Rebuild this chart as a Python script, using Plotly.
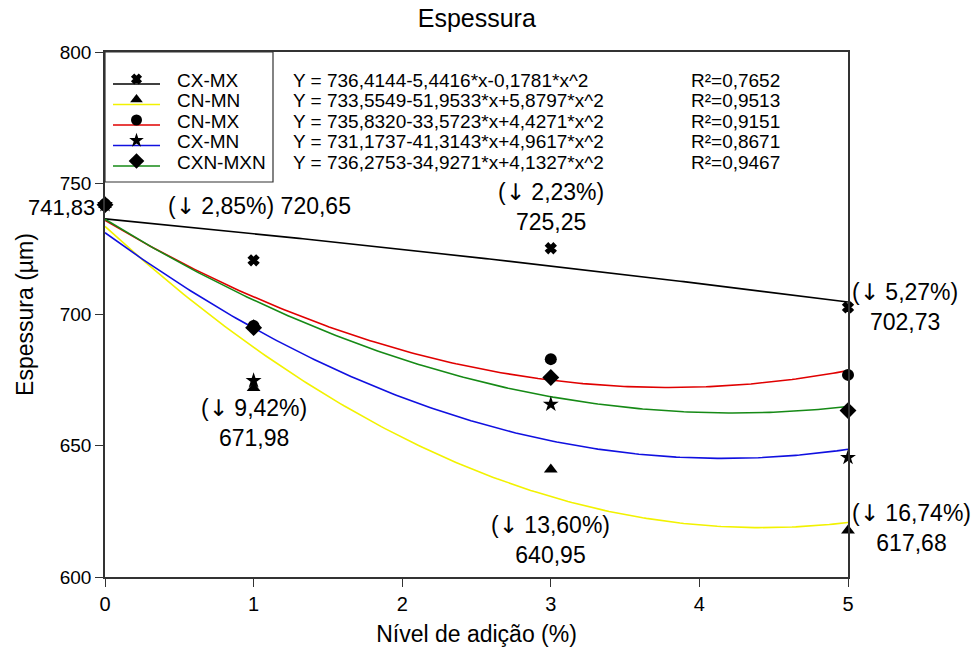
import numpy as np
import plotly.graph_objects as go

# ---- data ----
x_levels = [0, 1, 3, 5]
series_names = ["CX-MX", "CN-MN", "CN-MX", "CX-MN", "CXN-MXN"]
cx_mx = [741.83, 720.65, 725.25, 702.73]
cn_mn = [741.83, 671.98, 640.95, 617.68]
cn_mx = [741.83, 695.6, 683.0, 677.0]
cx_mn = [741.83, 674.8, 665.8, 645.5]
cxn_mxn = [741.83, 695.0, 676.0, 663.4]
# regression coefficients (a, b, c) for Y = a + b*x + c*x^2
coef_cx_mx = [736.4144, -5.4416, -0.1781]
coef_cn_mn = [733.5549, -51.9533, 5.8797]
coef_cn_mx = [735.8320, -33.5723, 4.4271]
coef_cx_mn = [731.1737, -41.3143, 4.9617]
coef_cxn_mxn = [736.2753, -34.9271, 4.1327]
equations = [
    "Y = 736,4144-5,4416*x-0,1781*x^2",
    "Y = 733,5549-51,9533*x+5,8797*x^2",
    "Y = 735,8320-33,5723*x+4,4271*x^2",
    "Y = 731,1737-41,3143*x+4,9617*x^2",
    "Y = 736,2753-34,9271*x+4,1327*x^2",
]
r2_labels = ["R²=0,7652", "R²=0,9513", "R²=0,9151", "R²=0,8671", "R²=0,9467"]

values = [cx_mx, cn_mn, cn_mx, cx_mn, cxn_mxn]
coefs = [coef_cx_mx, coef_cn_mn, coef_cn_mx, coef_cx_mn, coef_cxn_mxn]
colors = ["#000000", "#f2f200", "#e00000", "#1010e0", "#168a16"]
symbols = ["x", "triangle-up", "circle", "star", "diamond"]
msizes = [9, 12, 12, 12, 13]
draw_order = [0, 1, 3, 4, 2]

FONT = "Liberation Sans, Arial, sans-serif"
ARROW = '<span style="font-family:DejaVu Sans">↓</span>'
fig = go.Figure()

xs = np.linspace(0, 5, 200)
for i in range(5):
    a, b, c = coefs[i]
    fig.add_trace(go.Scatter(x=xs, y=a + b * xs + c * xs ** 2, mode="lines",
                             line=dict(color=colors[i], width=1.6),
                             showlegend=False, hoverinfo="skip"))

for i in draw_order:
    fig.add_trace(go.Scatter(x=x_levels, y=values[i], mode="markers", name=series_names[i],
                             showlegend=False, cliponaxis=False,
                             marker=dict(symbol=symbols[i], size=msizes[i], color="black",
                                         line=dict(color="black", width=1.5 if i == 0 else 0))))

# ---- manual legend on a pixel-like overlay axis (x: 0..743, y: 0..525 from bottom) ----
PLOT_TOP = 52
PLOT_BOTTOM = 577
row_px = [80, 100.5, 121, 141.5, 162]
for k in range(5):
    yl = PLOT_BOTTOM - row_px[k]
    fig.add_trace(go.Scatter(x=[8, 55], y=[yl - 4, yl - 4], mode="lines", xaxis="x2", yaxis="y2",
                             line=dict(color=colors[k], width=1.6), showlegend=False,
                             hoverinfo="skip"))
    fig.add_trace(go.Scatter(x=[31.5], y=[yl + 1], mode="markers", xaxis="x2", yaxis="y2",
                             marker=dict(symbol=symbols[k], size=msizes[k] - 1, color="black",
                                         line=dict(color="black", width=1.5 if k == 0 else 0)),
                             showlegend=False, hoverinfo="skip"))
    yp = (PLOT_BOTTOM - row_px[k]) / 525
    fig.add_annotation(x=(175 - 105) / 743, y=yp, xref="paper", yref="paper", text=series_names[k],
                       showarrow=False, xanchor="left", yanchor="middle",
                       font=dict(size=19, color="black", family=FONT))
    fig.add_annotation(x=(291 - 105) / 743, y=yp, xref="paper", yref="paper", text=equations[k],
                       showarrow=False, xanchor="left", yanchor="middle",
                       font=dict(size=19, color="black", family=FONT))
    fig.add_annotation(x=(689 - 105) / 743, y=yp, xref="paper", yref="paper", text=r2_labels[k],
                       showarrow=False, xanchor="left", yanchor="middle",
                       font=dict(size=19, color="black", family=FONT))

# legend box
fig.add_shape(type="rect", xref="paper", yref="paper", x0=0, x1=(273 - 105) / 743,
              y0=(PLOT_BOTTOM - 182) / 525, y1=1,
              line=dict(color="#333", width=1.2), fillcolor="rgba(0,0,0,0)", layer="above")

afont = dict(size=23, color="black", family=FONT)
fig.add_annotation(x=0, y=741.83, xref="paper", yref="y", text="741,83", showarrow=False,
                   xanchor="right", yanchor="middle", xshift=-8, yshift=-3,
                   font=dict(size=22, color="black", family=FONT))
fig.add_annotation(x=1.04, y=741.5, text=f"({ARROW} 2,85%) 720,65", showarrow=False,
                   xanchor="center", yanchor="middle", font=afont)
fig.add_annotation(x=3, y=741.0, text=f"({ARROW} 2,23%)<br>725,25", showarrow=False,
                   xanchor="center", yanchor="middle", font=afont)
fig.add_annotation(x=5, y=702.8, text=f"({ARROW} 5,27%)<br>702,73", showarrow=False,
                   xanchor="left", yanchor="middle", xshift=2, font=afont)
fig.add_annotation(x=1, y=658.5, text=f"({ARROW} 9,42%)<br>671,98", showarrow=False,
                   xanchor="center", yanchor="middle", font=afont)
fig.add_annotation(x=3, y=614.0, text=f"({ARROW} 13,60%)<br>640,95", showarrow=False,
                   xanchor="center", yanchor="middle", font=afont)
fig.add_annotation(x=5, y=618.5, text=f"({ARROW} 16,74%)<br>617,68", showarrow=False,
                   xanchor="left", yanchor="middle", xshift=2, font=afont)

fig.update_layout(
    width=973, height=657,
    margin=dict(l=105, r=125, t=PLOT_TOP, b=657 - PLOT_BOTTOM, autoexpand=False),
    paper_bgcolor="white", plot_bgcolor="white",
    font=dict(family=FONT, color="black"),
    title=dict(text="Espessura", x=0.49, xanchor="center", y=0.985, yanchor="top",
               font=dict(size=25, family=FONT, color="black")),
    showlegend=False,
    xaxis=dict(range=[0, 5], tickvals=[0, 1, 2, 3, 4, 5], ticks="outside", ticklen=8,
               tickwidth=1.3, tickcolor="#333", showline=True, linecolor="#333",
               linewidth=1.5, mirror=True, showgrid=False, zeroline=False, automargin=False,
               tickfont=dict(size=20, family=FONT), ticklabelstandoff=0,
               title=dict(text="Nível de adição (%)", font=dict(size=23, family=FONT), standoff=12)),
    yaxis=dict(range=[600, 800], tickvals=[600, 650, 700, 750, 800], ticks="outside",
               ticklen=8, tickwidth=1.3, tickcolor="#333", showline=True, linecolor="#333",
               linewidth=1.5, mirror=True, showgrid=False, zeroline=False, automargin=False,
               tickfont=dict(size=19, family=FONT),
               title=dict(text="Espessura (µm)", font=dict(size=23, family=FONT), standoff=20)),
    xaxis2=dict(overlaying="x", range=[0, 743], visible=False, fixedrange=True),
    yaxis2=dict(overlaying="y", range=[0, 525], visible=False, fixedrange=True),
)

fig.write_html("out.html")
